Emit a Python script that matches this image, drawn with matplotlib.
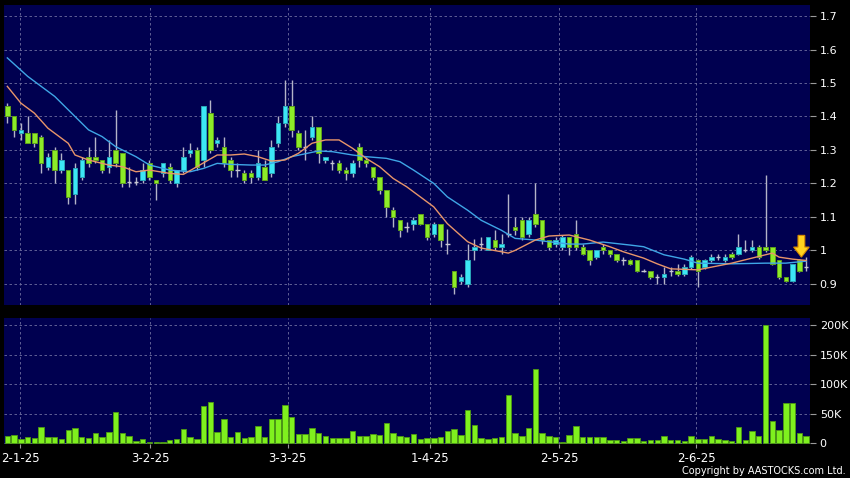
import matplotlib
matplotlib.use('Agg')
import matplotlib.pyplot as plt
from matplotlib.patches import FancyArrow
from matplotlib.ticker import FuncFormatter
import numpy as np

# daily candles, 30 Dec 2024 .. late Jun 2025
opens = [1.43, 1.40, 1.35, 1.35, 1.35, 1.34, 1.25, 1.30, 1.24, 1.24,
         1.17, 1.22, 1.28, 1.28, 1.27, 1.25, 1.30, 1.29, 1.205, 1.205,
         1.21, 1.26, 1.21, 1.23, 1.25, 1.20, 1.24, 1.29, 1.30, 1.27,
         1.41, 1.32, 1.31, 1.27, 1.24, 1.23, 1.23, 1.22, 1.25, 1.23,
         1.32, 1.38, 1.43, 1.35, 1.31, 1.34, 1.37, 1.27, 1.26, 1.26,
         1.24, 1.23, 1.31, 1.27, 1.25, 1.22, 1.18, 1.12, 1.09, 1.07,
         1.08, 1.11, 1.08, 1.05, 1.08, 1.02, 0.94, 0.91, 0.90, 1.00,
         1.02, 1.00, 1.03, 1.01, 1.05, 1.07, 1.09, 1.05, 1.11, 1.09,
         1.03, 1.02, 1.01, 1.04, 1.05, 1.01, 1.00, 0.98, 1.01, 1.00,
         0.99, 0.97, 0.97, 0.97, 0.94, 0.94, 0.92, 0.92, 0.94, 0.94,
         0.93, 0.95, 0.97, 0.95, 0.97, 0.98, 0.97, 0.99, 0.99, 1.00,
         1.00, 1.01, 1.01, 1.01, 0.97, 0.92, 0.91, 0.97, 0.95]
highs = [1.44, 1.40, 1.38, 1.40, 1.35, 1.345, 1.29, 1.31, 1.29, 1.24,
         1.26, 1.28, 1.31, 1.34, 1.27, 1.33, 1.42, 1.29, 1.25, 1.22,
         1.26, 1.27, 1.21, 1.26, 1.26, 1.24, 1.31, 1.32, 1.31, 1.43,
         1.45, 1.34, 1.34, 1.28, 1.26, 1.24, 1.24, 1.30, 1.27, 1.33,
         1.40, 1.51, 1.51, 1.36, 1.36, 1.40, 1.37, 1.28, 1.27, 1.27,
         1.25, 1.27, 1.32, 1.28, 1.25, 1.22, 1.18, 1.13, 1.09, 1.085,
         1.10, 1.11, 1.08, 1.085, 1.08, 1.065, 0.94, 0.93, 1.02, 1.035,
         1.04, 1.04, 1.06, 1.05, 1.17, 1.10, 1.10, 1.10, 1.20, 1.09,
         1.03, 1.04, 1.045, 1.04, 1.09, 1.02, 1.00, 1.00, 1.02, 1.00,
         0.99, 0.98, 0.975, 0.97, 0.945, 0.94, 0.93, 0.95, 0.95, 0.96,
         0.96, 0.985, 0.975, 0.975, 0.99, 0.99, 0.99, 0.995, 1.05, 1.03,
         1.03, 1.015, 1.225, 1.01, 0.97, 0.92, 0.96, 0.975, 0.98]
lows = [1.38, 1.34, 1.33, 1.32, 1.31, 1.23, 1.24, 1.20, 1.23, 1.14,
        1.14, 1.21, 1.25, 1.26, 1.23, 1.23, 1.25, 1.19, 1.19, 1.195,
        1.20, 1.21, 1.15, 1.22, 1.20, 1.19, 1.23, 1.28, 1.24, 1.25,
        1.29, 1.31, 1.25, 1.22, 1.22, 1.20, 1.20, 1.21, 1.21, 1.22,
        1.31, 1.37, 1.34, 1.30, 1.27, 1.33, 1.26, 1.26, 1.24, 1.23,
        1.21, 1.22, 1.25, 1.25, 1.21, 1.17, 1.10, 1.07, 1.04, 1.055,
        1.06, 1.075, 1.03, 1.04, 1.01, 0.99, 0.87, 0.90, 0.89, 0.97,
        1.00, 1.00, 1.00, 0.99, 1.04, 1.045, 1.03, 1.04, 1.07, 1.02,
        1.00, 1.01, 1.00, 0.985, 1.00, 0.985, 0.957, 0.975, 0.99, 0.98,
        0.965, 0.955, 0.955, 0.935, 0.935, 0.915, 0.90, 0.90, 0.925, 0.925,
        0.925, 0.945, 0.89, 0.945, 0.965, 0.97, 0.965, 0.975, 0.985, 0.995,
        0.995, 0.975, 0.995, 0.955, 0.915, 0.905, 0.905, 0.935, 0.94]
closes = [1.40, 1.36, 1.36, 1.32, 1.32, 1.26, 1.28, 1.24, 1.27, 1.16,
          1.245, 1.27, 1.26, 1.27, 1.24, 1.28, 1.26, 1.20, 1.205, 1.205,
          1.24, 1.22, 1.20, 1.26, 1.21, 1.24, 1.28, 1.30, 1.25, 1.43,
          1.30, 1.33, 1.26, 1.24, 1.24, 1.21, 1.22, 1.26, 1.21, 1.31,
          1.38, 1.43, 1.36, 1.31, 1.31, 1.37, 1.29, 1.28, 1.26, 1.24,
          1.23, 1.26, 1.27, 1.26, 1.22, 1.18, 1.13, 1.10, 1.06, 1.07,
          1.09, 1.08, 1.04, 1.08, 1.03, 1.02, 0.89, 0.92, 0.97, 1.01,
          1.02, 1.04, 1.01, 1.02, 1.05, 1.06, 1.04, 1.09, 1.08, 1.03,
          1.01, 1.03, 1.04, 1.01, 1.01, 0.99, 0.97, 1.00, 1.00, 0.99,
          0.97, 0.97, 0.96, 0.94, 0.94, 0.92, 0.92, 0.93, 0.94, 0.93,
          0.95, 0.98, 0.94, 0.97, 0.98, 0.98, 0.98, 0.98, 1.01, 1.00,
          1.01, 0.98, 1.00, 0.96, 0.92, 0.91, 0.96, 0.94, 0.95]
# volume in thousands of shares
volumes = [12.4, 13.6, 6.2, 10, 8.5, 27.7, 10, 11, 7.3, 22,
           26, 11, 8.5, 17.5, 10.6, 18, 53, 16.4, 12.4, 4,
           6.8, 1.1, 1, 1, 5, 7.3, 23.7, 10.6, 7.3, 63,
           70, 18, 40.7, 11, 18.6, 8.5, 11, 28.8, 10, 40.7,
           40.7, 65, 44, 15.3, 15.3, 25.4, 17.5, 11.9, 8.5, 8.5,
           8.5, 20.3, 12.7, 12.7, 14.7, 13.6, 34, 16.4, 12.7, 10,
           14.7, 7.3, 8.5, 8.5, 10.3, 20, 23.7, 13.6, 56.5, 30.5,
           8.5, 7.3, 8.5, 10, 81.4, 17.5, 12.4, 26, 125, 17.5,
           11.9, 10, 1, 13.6, 29.4, 10, 10, 10, 10, 5.4,
           5.4, 2.8, 8.5, 8.5, 4, 4.5, 4.5, 11.9, 5, 5,
           4, 12.4, 7.3, 7.3, 12.4, 7.3, 5.4, 4, 27.7, 5,
           20.9, 11.9, 199.5, 37.9, 21.5, 67.2, 67.2, 17.5, 12.4]

# moving averages (bar index, value)
ma10_idx = [0, 2, 4, 6, 9, 10, 12, 15, 17, 19, 21, 24, 26, 28, 31, 33, 35, 37, 39,
            41, 43, 45, 47, 49, 51, 53, 55, 57, 59, 61, 63, 65, 68, 70, 73, 74, 75,
            78, 80, 83, 86, 89, 91, 94, 96, 98, 102, 107, 111, 113, 114, 116, 118]
ma10 = [1.49, 1.44, 1.41, 1.365, 1.32, 1.285, 1.27, 1.255, 1.25, 1.235, 1.24, 1.23,
        1.227, 1.25, 1.285, 1.285, 1.288, 1.28, 1.267, 1.27, 1.29, 1.32, 1.33, 1.33,
        1.305, 1.275, 1.25, 1.215, 1.19, 1.16, 1.13, 1.08, 1.026, 1.007, 0.996, 0.992,
        1.0, 1.031, 1.043, 1.046, 1.031, 1.011, 0.996, 0.977, 0.96, 0.945, 0.942,
        0.962, 0.982, 0.992, 0.98, 0.974, 0.97]
ma20_idx = [0, 3, 7, 9, 12, 14, 16, 19, 21, 24, 27, 29, 31, 33, 36, 38, 40, 42, 45,
            46, 48, 51, 53, 56, 58, 60, 63, 65, 68, 70, 73, 75, 78, 80, 83, 85, 88,
            92, 94, 97, 100, 102, 107, 112, 115, 118]
ma20 = [1.575, 1.52, 1.46, 1.42, 1.36, 1.34, 1.31, 1.28, 1.255, 1.24, 1.235, 1.245,
        1.26, 1.257, 1.255, 1.255, 1.265, 1.28, 1.293, 1.297, 1.295, 1.285, 1.28,
        1.275, 1.265, 1.24, 1.20, 1.16, 1.12, 1.09, 1.06, 1.036, 1.031, 1.026, 1.019,
        1.019, 1.025, 1.016, 1.011, 0.987, 0.974, 0.962, 0.96, 0.962, 0.962, 0.968]

date_pos = [1.9, 21.1, 41.4, 62.5, 81.5, 101.8]
date_labels = ['2-1-25', '3-2-25', '3-3-25', '1-4-25', '2-5-25', '2-6-25']
price_ticks = [0.9, 1.0, 1.1, 1.2, 1.3, 1.4, 1.5, 1.6, 1.7]
vol_ticks = [0, 50, 100, 150, 200]

BG = '#000050'
UP, UP_EDGE = '#3CE6F5', '#2AA6B8'
DN, DN_EDGE = '#8CEB28', '#5FA01C'
WICK = '#B4B4C8'
GRID = '#6E6EA0'

fig = plt.figure(figsize=(8.5, 4.78), dpi=100)
fig.patch.set_facecolor('black')
ax = fig.add_axes([4/850, 1 - 305/478, 806/850, 300/478])
axv = fig.add_axes([4/850, 1 - 444/478, 806/850, 126/478])

o = np.array(opens); h = np.array(highs); l = np.array(lows); c = np.array(closes)
x = np.arange(len(o))
up = c > o
dn = c < o
doji = c == o

for a in (ax, axv):
    a.set_facecolor(BG)
    for s in a.spines.values():
        s.set_visible(False)
    a.set_xlim(-0.49, 118.57)
    a.set_xticks(date_pos)
    a.grid(True, color=GRID, lw=0.6, ls=(0, (3, 3)))
    a.set_axisbelow(True)
    a.yaxis.tick_right()
    a.tick_params(axis='y', colors='#9a9a9a', labelcolor='white', labelsize=8,
                  length=4, pad=3, direction='out')

# price panel
ax.vlines(x, l, h, color=WICK, lw=1, zorder=2)
ax.bar(x[up], (c - o)[up], bottom=o[up], width=0.66, color=UP,
       edgecolor=UP_EDGE, linewidth=0.7, zorder=3)
ax.bar(x[dn], (o - c)[dn], bottom=c[dn], width=0.66, color=DN,
       edgecolor=DN_EDGE, linewidth=0.7, zorder=3)
ax.hlines(c[doji], x[doji] - 0.33, x[doji] + 0.33, color='#C8C8D4', lw=1, zorder=3)
ax.plot(ma20_idx, ma20, color='#3FA6E6', lw=1, zorder=4)
ax.plot(ma10_idx, ma10, color='#E8956A', lw=1, zorder=4)

ax.set_ylim(0.837, 1.733)
ax.set_yticks(price_ticks)
ax.yaxis.set_major_formatter(FuncFormatter(lambda v, p: f'{v:g}'))
ax.tick_params(axis='x', length=0, labelbottom=False)

# marker arrow over the latest session
last = x[-1] - 0.7
ax.add_patch(FancyArrow(last, h[-2] + 0.07, 0, -0.065, width=1.0, head_width=2.3,
                        head_length=0.03, length_includes_head=True,
                        facecolor='#FFD21E', edgecolor='#D88A00', lw=0.8, zorder=6))

# volume panel
vol = np.array(volumes) * 1000
axv.bar(x, vol, width=0.8, color='#7FF01E', edgecolor='#4E9A12', linewidth=0.6, zorder=3)
axv.set_ylim(-1700, 212000)
axv.set_yticks([v * 1000 for v in vol_ticks])
axv.set_yticklabels([f'{v}K' if v else '0' for v in vol_ticks])
axv.set_xticklabels(date_labels)
axv.tick_params(axis='x', colors='#9a9a9a', labelcolor='white', labelsize=8.5,
                length=3, pad=3)

fig.text(0.995, 0.004, 'Copyright by AASTOCKS.com Ltd.', ha='right', va='bottom',
         color='white', fontsize=7)

plt.savefig('out.png', dpi=100, facecolor='black')
